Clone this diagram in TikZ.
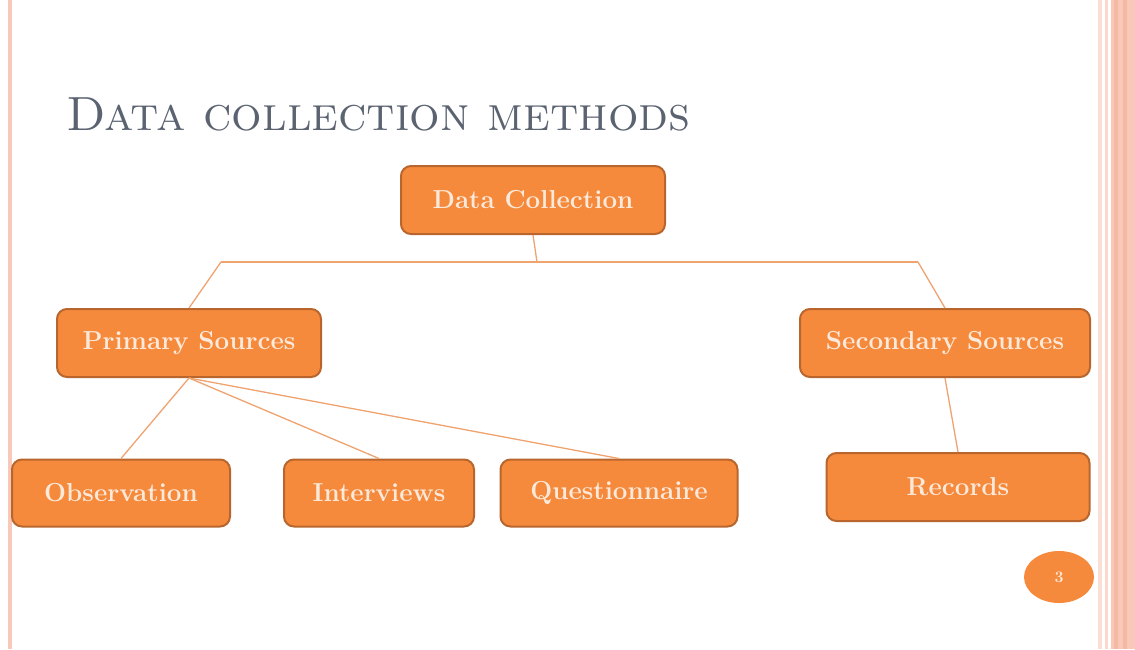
\documentclass[tikz,border=0pt]{standalone}
\usetikzlibrary{shapes.geometric}

\definecolor{boxfill}{HTML}{F68A3C}
\definecolor{boxline}{HTML}{B8662E}
\definecolor{linkcol}{HTML}{EFA370}
\definecolor{titlecol}{HTML}{5B6371}
\definecolor{boxtext}{HTML}{FCE9DA}
\definecolor{stripe}{HTML}{F8C8B8}
\definecolor{stripedark}{HTML}{F5B8A3}

\tikzset{
  srcbox/.style={draw=boxline, line width=2pt, fill=boxfill, rounded corners=10pt,
    text=boxtext, font=\fontsize{26}{30}\selectfont\bfseries, minimum height=68pt},
  link/.style={draw=linkcol, line width=1.3pt}
}

\begin{document}
\begin{tikzpicture}[x=1pt,y=-1pt]
                % Page frame
                \useasboundingbox (0,0) rectangle (1135,649);
                \fill[white] (0,0) rectangle (1135,649);
                \fill[stripe] (8,0) rectangle (12,649);
                \fill[stripe!60] (1098,0) rectangle (1102,649);
                \fill[stripe!70] (1105,0) rectangle (1108,649);
                \fill[stripe] (1111,0) rectangle (1135,649);
                \fill[stripedark] (1114,0) rectangle (1118,649);
                \fill[stripedark] (1123,0) rectangle (1127,649);

                % Title
                \node[anchor=base west, inner sep=0pt, text=titlecol,
                  font=\fontsize{48}{52}\selectfont] (title) at (66,130) {\textsc{Data collection methods}};

                % Boxes
                \node[srcbox, minimum width=264pt] (dc) at (533,200) {Data Collection};
                \node[srcbox, minimum width=264pt] (ps) at (189,343) {Primary Sources};
                \node[srcbox, minimum width=290pt] (ss) at (945,343) {Secondary Sources};
                \node[srcbox, minimum width=218pt, minimum height=67pt] (obs) at (121,493) {Observation};
                \node[srcbox, minimum width=190pt, minimum height=67pt] (intv) at (379,493) {Interviews};
                \node[srcbox, minimum width=237pt, minimum height=67pt] (quest) at (619,493) {Questionnaire};
                \node[srcbox, minimum width=263pt] (rec) at (958,487) {Records};

                % Page number
                \node[ellipse, fill=boxfill, minimum width=70pt, minimum height=52pt, text=boxtext,
                  font=\fontsize{16}{18}\selectfont\bfseries] (pagenum) at (1059,577) {3};

                % Lines
                \coordinate (barmid) at (537,262);
                \coordinate (barL) at (221,262);
                \coordinate (barR) at (918,262);
                \draw[link] (dc.south) -- (barmid);
                \draw[link] (barL) -- (barR);
                \draw[link] (barL) -- (ps.north);
                \draw[link] (barR) -- (ss.north);
                \draw[link] (ps.south) -- (obs.north);
                \draw[link] (ps.south) -- (intv.north);
                \draw[link] (ps.south) -- (quest.north);
                \draw[link] (ss.south) -- (rec.north);
\end{tikzpicture}
\end{document}
